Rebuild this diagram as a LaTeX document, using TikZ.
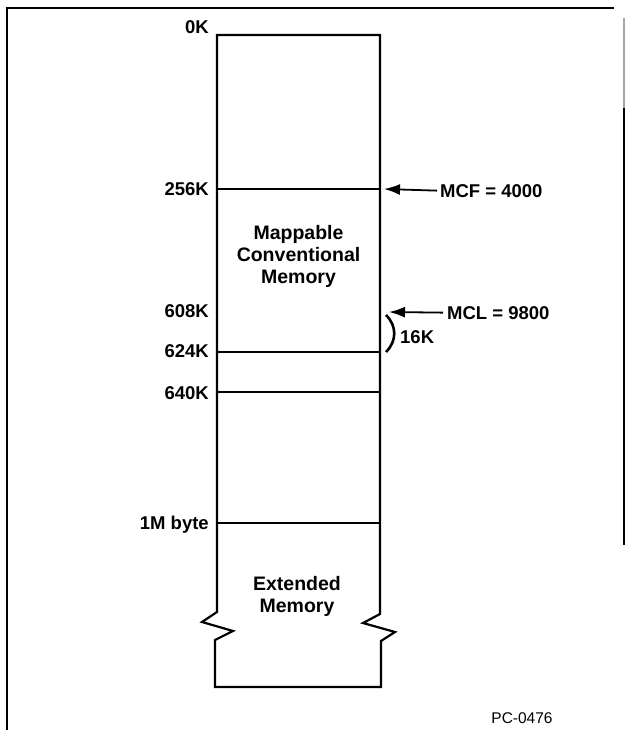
\documentclass[tikz,border=0pt]{standalone}
\usepackage{fontspec}
\setmainfont{Liberation Sans}
\usetikzlibrary{arrows.meta}
\begin{document}
\begin{tikzpicture}[x=1pt,y=-1pt,
  lbl/.style={font=\fontsize{18.5}{21}\selectfont\bfseries, inner sep=0pt},
  boxtxt/.style={font=\fontsize{19.5}{22}\selectfont\bfseries, align=center, inner sep=0pt},
  wall/.style={line width=2.2pt, line join=miter},
  divider/.style={line width=2pt},
  pointer/.style={line width=1.8pt, -{Latex[length=16pt,width=11pt]}}
]
\useasboundingbox (0,0) rectangle (628,730);
% frame
\draw[line width=2pt] (7,730) -- (7,8) -- (614,8);
\draw[line width=1.6pt, black!35] (624,18) -- (624,108);
\draw[line width=2pt] (624,108) -- (624,545);
% memory column outline
\draw[wall] (217,35) -- (380,35) -- (380,614) -- (363,623) -- (395,632) -- (381,641)
  -- (381,687) -- (215,687) -- (215,640) -- (233,631) -- (202,622) -- (217,612) -- cycle;
% dividers
\coordinate (l256) at (217,189); \coordinate (r256) at (380,189);
\coordinate (l624) at (217,352); \coordinate (r624) at (380,352);
\coordinate (l640) at (217,392); \coordinate (r640) at (380,392);
\coordinate (l1m)  at (217,523); \coordinate (r1m)  at (380,523);
\draw[divider] (l256) -- (r256);
\draw[divider] (l624) -- (r624);
\draw[divider] (l640) -- (r640);
\draw[divider] (l1m) -- (r1m);
% left labels
\node[lbl, anchor=base east] (k0)   at (209,34)  {0K};
\node[lbl, anchor=base east] (k256) at (209,196) {256K};
\node[lbl, anchor=base east] (k608) at (209,317) {608K};
\node[lbl, anchor=base east] (k624) at (209,357) {624K};
\node[lbl, anchor=base east] (k640) at (209,399) {640K};
\node[lbl, anchor=base east] (k1m)  at (209,529) {1M byte};
% box texts
\node[boxtxt] (mcm) at (298.5,256) {Mappable\\Conventional\\Memory};
\node[boxtxt] (ext) at (297,596) {Extended\\Memory};
% pointers
\coordinate (mcftip) at (384,189);
\node[lbl, anchor=base west] (mcf) at (440,197) {MCF = 4000};
\draw[pointer] ([xshift=-3pt]mcf.west) -- (mcftip);
\coordinate (mcltip) at (389,312);
\node[lbl, anchor=base west] (mcl) at (447,319) {MCL = 9800};
\draw[pointer] ([xshift=-4pt]mcl.west) -- (mcltip);
% 16K brace
\coordinate (pa) at (386,315);
\coordinate (pb) at (386,352);
\draw[line width=2.6pt] (pa) .. controls (397,326) and (397,341) .. (pb);
\node[lbl, anchor=base west] (k16) at (400,343) {16K};
% figure id
\node[font=\fontsize{15.5}{18}\selectfont, inner sep=0pt, anchor=base] (pc) at (522,723) {PC-0476};
\end{tikzpicture}
\end{document}
